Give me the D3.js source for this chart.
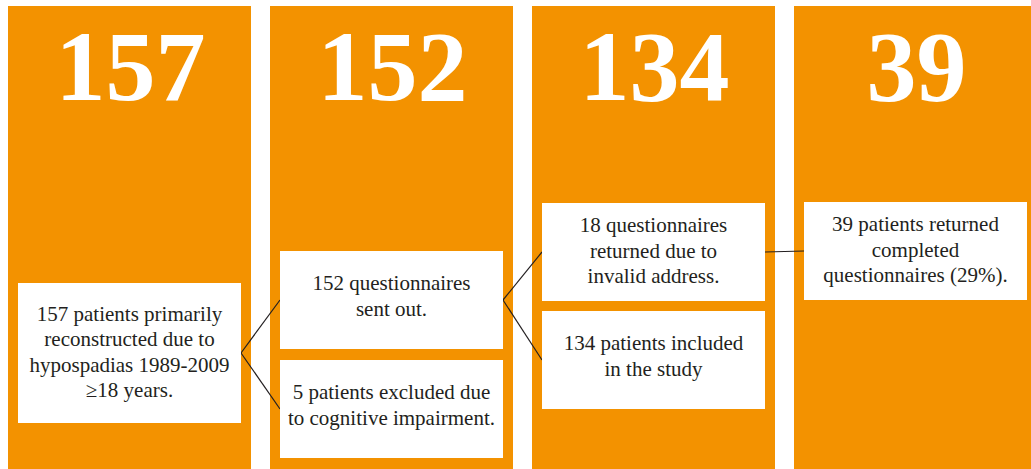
<!DOCTYPE html>
<meta charset="utf-8">
<script src="https://d3js.org/d3.v7.min.js"></script>
<style>
  body { margin: 0; background: #fff; }
</style>
<div id="chart"></div>
<script>

// --- data ---
var stages = [0, 1, 2, 3];
var counts = ["157", "152", "134", "39"];

var boxStage = [0, 1, 1, 2, 2, 3];
var boxText = [
  ["157 patients primarily", "reconstructed due to", "hypospadias 1989-2009", "\u226518 years."],
  ["152 questionnaires", "sent out."],
  ["5 patients excluded due", "to cognitive impairment."],
  ["18 questionnaires", "returned due to", "invalid address."],
  ["134 patients included", "in the study"],
  ["39 patients returned", "completed", "questionnaires (29%)."]
];
// which box connects to which
var links = [[0, 1], [0, 2], [1, 3], [1, 4], [3, 5]];

// --- layout (not data) ---
var W = 1031, H = 469;
var orange = "#f39200", ink = "#231f20";
var serif = "Liberation Serif";
var boxTop = [283, 251, 360, 203, 311, 202];
var boxH   = [140,  98,  98,  98,  98,  98];
var lineH = 25.5;

var svg = d3.select("#chart").append("svg")
  .attr("width", W)
  .attr("height", H);

var x = d3.scaleBand()
  .domain(stages)
  .range([8, 1037])
  .paddingInner(19 / 262)
  .paddingOuter(0);

// orange columns
svg.selectAll("rect.col")
  .data(stages)
  .enter().append("rect")
  .attr("class", "col")
  .attr("x", function(d) { return x(d); })
  .attr("y", 6)
  .attr("width", x.bandwidth())
  .attr("height", H - 6)
  .attr("fill", orange);

// big numbers
svg.selectAll("text.big")
  .data(stages)
  .enter().append("text")
  .attr("class", "big")
  .attr("x", function(d) { return x(d) + x.bandwidth() / 2 + 1; })
  .attr("y", 100)
  .attr("text-anchor", "middle")
  .attr("font-family", serif)
  .attr("font-weight", "bold")
  .attr("font-size", 100)
  .attr("fill", "#fff")
  .text(function(d) { return counts[d]; });

var boxes = boxText.map(function(t, i) {
  var x0 = x(boxStage[i]) + 10;
  return { lines: t, x: x0, y: boxTop[i], w: 223, h: boxH[i] };
});

// connector lines
svg.selectAll("line.link")
  .data(links)
  .enter().append("line")
  .attr("class", "link")
  .attr("x1", function(d) { return boxes[d[0]].x + boxes[d[0]].w; })
  .attr("y1", function(d) { return boxes[d[0]].y + boxes[d[0]].h / 2; })
  .attr("x2", function(d) { return boxes[d[1]].x; })
  .attr("y2", function(d) { return boxes[d[1]].y + boxes[d[1]].h / 2; })
  .attr("stroke", ink)
  .attr("stroke-width", 1.2);

// white boxes
var g = svg.selectAll("g.box")
  .data(boxes)
  .enter().append("g")
  .attr("class", "box");

g.append("rect")
  .attr("x", function(d) { return d.x; })
  .attr("y", function(d) { return d.y; })
  .attr("width", function(d) { return d.w; })
  .attr("height", function(d) { return d.h; })
  .attr("fill", "#fff");

g.each(function(d) {
  var top = d.y + (d.h - d.lines.length * lineH) / 2 + 18.5;
  if (d.lines.length == 2) top -= 3;
  d3.select(this).selectAll("text")
    .data(d.lines)
    .enter().append("text")
    .attr("x", d.x + d.w / 2)
    .attr("y", function(l, i) { return top + i * lineH; })
    .attr("text-anchor", "middle")
    .attr("font-family", serif)
    .attr("font-size", 21)
    .attr("fill", ink)
    .text(function(l) { return l; });
});

</script>
